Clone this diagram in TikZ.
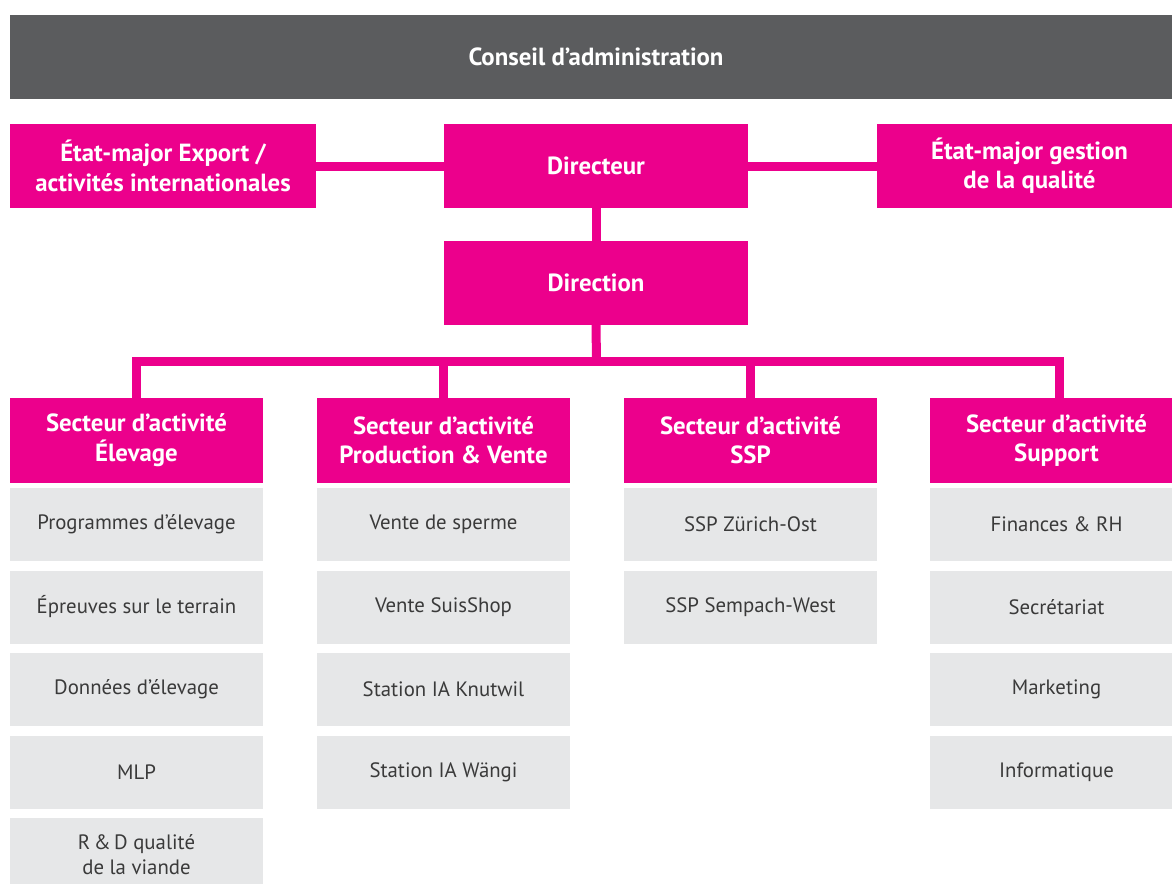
\documentclass[tikz,border=0pt]{standalone}
\usepackage{fontspec}
\setmainfont{PT Sans}
\definecolor{magentabox}{HTML}{EC008C}
\definecolor{darkbar}{HTML}{5B5C5E}
\definecolor{lightbox}{HTML}{E6E7E8}
\definecolor{txtgrey}{HTML}{3A3A3A}
\begin{document}
\begin{tikzpicture}[x=0.75pt,y=-0.75pt,
  box/.style={inner sep=0pt, outer sep=0pt, anchor=north west, align=center},
  headfont/.style={font=\bfseries\fontsize{18.6}{22}\selectfont},
  pinkbox/.style={box, fill=magentabox, text=white, headfont},
  secbox/.style={pinkbox, minimum width=189.75pt, minimum height=63.5pt},
  unitbox/.style={box, fill=lightbox, text=txtgrey, minimum width=189.75pt, minimum height=54.75pt,
    font=\fontsize{15.6}{18.75}\selectfont},
  conn/.style={draw=magentabox, line width=6.75pt}
]
\useasboundingbox (0,0) rectangle (1172,883);
\clip (0,0) rectangle (1172,883);
% top boxes
\node[box, fill=darkbar, text=white, headfont, minimum width=879pt, minimum height=63pt] (board) at (10,15) {Conseil d’administration};
\node[pinkbox, minimum width=229.5pt, minimum height=63pt] (export) at (10,124) {État-major Export /\\activités internationales};
\node[pinkbox, minimum width=228pt, minimum height=63pt] (dir) at (444,124) {Directeur};
\node[pinkbox, minimum width=228.75pt, minimum height=63pt] (qual) at (877,124) {État-major gestion\\de la qualité};
\node[pinkbox, minimum width=228pt, minimum height=63pt] (dion) at (444,241) {Direction};
% sectors
\node[secbox] (s1) at (10,398) {Secteur d’activité\\Élevage};
\node[secbox] (s2) at (317,398) {Secteur d’activité\\Production \& Vente};
\node[secbox] (s3) at (624,398) {Secteur d’activité\\SSP};
\node[secbox] (s4) at (930,398) {Secteur d’activité\\Support};
% junction coordinates
\coordinate (j0) at (596.5,361.5);
\coordinate (j1) at (136.5,361.5);
\coordinate (j2) at (443.5,361.5);
\coordinate (j3) at (750.5,361.5);
\coordinate (j4) at (1059.5,361.5);
% connectors
\draw[conn] (export.east) -- (dir.west);
\draw[conn] (dir.east) -- (qual.west);
\draw[conn] (dir.south) -- (dion.north);
\draw[conn] (dion.south) -- (j0);
\draw[conn, line cap=rect] (j1) -- (j4);
\draw[conn] (j1) -- (j1 |- s1.north);
\draw[conn] (j2) -- (j2 |- s2.north);
\draw[conn] (j3) -- (j3 |- s3.north);
\draw[conn] (j4) -- (j4 |- s4.north);
% redraw boxes above connector ends
\node[pinkbox, minimum width=228pt, minimum height=63pt] at (444,124) {Directeur};
\node[pinkbox, minimum width=228pt, minimum height=63pt] at (444,241) {Direction};
% units column 1
\node[unitbox] (u11) at (10,488) {Programmes d’élevage};
\node[unitbox] (u12) at (10,570.5) {Épreuves sur le terrain};
\node[unitbox] (u13) at (10,653) {Données d’élevage};
\node[unitbox] (u14) at (10,735.5) {MLP};
\node[unitbox] (u15) at (10,818) {R\,\&\,D qualité\\de la viande};
% column 2
\node[unitbox] (u21) at (317,488) {Vente de sperme};
\node[unitbox] (u22) at (317,570.5) {Vente SuisShop};
\node[unitbox] (u23) at (317,653) {Station IA Knutwil};
\node[unitbox] (u24) at (317,735.5) {Station IA Wängi};
% column 3
\node[unitbox] (u31) at (624,488) {SSP Zürich-Ost};
\node[unitbox] (u32) at (624,570.5) {SSP Sempach-West};
% column 4
\node[unitbox] (u41) at (930,488) {Finances \& RH};
\node[unitbox] (u42) at (930,570.5) {Secrétariat};
\node[unitbox] (u43) at (930,653) {Marketing};
\node[unitbox] (u44) at (930,735.5) {Informatique};
\end{tikzpicture}
\end{document}
